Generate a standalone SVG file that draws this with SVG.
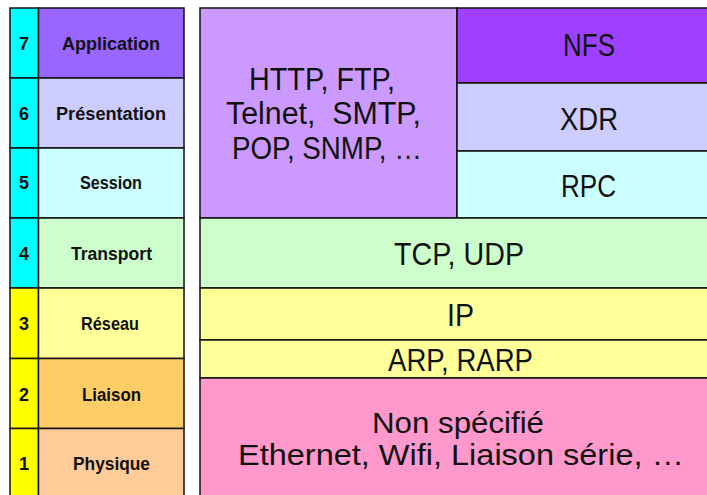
<svg xmlns="http://www.w3.org/2000/svg" width="707" height="495" viewBox="0 0 707 495">
<style>
.c{stroke:#111;stroke-width:1.5}
.n{font-family:"Liberation Sans",Arial,sans-serif;font-weight:bold;font-size:18px;fill:#111}
.b{font-family:"Liberation Sans",Arial,sans-serif;font-size:31px;fill:#111;white-space:pre}
.s{font-size:29.5px}
</style>
<rect width="707" height="495" fill="#fff"/>
<g id="layer7">
<rect class="c" x="10" y="8" width="28.5" height="70" fill="#00FFFF"/>
<rect class="c" x="38.5" y="8" width="145.5" height="70" fill="#9966FF"/>
<text class="n" x="24" y="50" text-anchor="middle">7</text>
<text class="n" x="62" y="50" textLength="98" lengthAdjust="spacingAndGlyphs">Application</text>
</g>
<g id="layer6">
<rect class="c" x="10" y="78" width="28.5" height="70" fill="#00FFFF"/>
<rect class="c" x="38.5" y="78" width="145.5" height="70" fill="#CCCCFF"/>
<text class="n" x="24" y="120" text-anchor="middle">6</text>
<text class="n" x="56" y="120" textLength="110" lengthAdjust="spacingAndGlyphs">Présentation</text>
</g>
<g id="layer5">
<rect class="c" x="10" y="148" width="28.5" height="70" fill="#00FFFF"/>
<rect class="c" x="38.5" y="148" width="145.5" height="70" fill="#CCFFFF"/>
<text class="n" x="24" y="189" text-anchor="middle">5</text>
<text class="n" x="80" y="189" textLength="62" lengthAdjust="spacingAndGlyphs">Session</text>
</g>
<g id="layer4">
<rect class="c" x="10" y="218" width="28.5" height="70" fill="#00FFFF"/>
<rect class="c" x="38.5" y="218" width="145.5" height="70" fill="#CCFFCC"/>
<text class="n" x="24" y="260" text-anchor="middle">4</text>
<text class="n" x="71" y="260" textLength="81" lengthAdjust="spacingAndGlyphs">Transport</text>
</g>
<g id="layer3">
<rect class="c" x="10" y="288" width="28.5" height="70.5" fill="#FFFF00"/>
<rect class="c" x="38.5" y="288" width="145.5" height="70.5" fill="#FFFF99"/>
<text class="n" x="24" y="330" text-anchor="middle">3</text>
<text class="n" x="81" y="330" textLength="58" lengthAdjust="spacingAndGlyphs">Réseau</text>
</g>
<g id="layer2">
<rect class="c" x="10" y="358.5" width="28.5" height="70" fill="#FFFF00"/>
<rect class="c" x="38.5" y="358.5" width="145.5" height="70" fill="#FFCC66"/>
<text class="n" x="24" y="401" text-anchor="middle">2</text>
<text class="n" x="82" y="401" textLength="59" lengthAdjust="spacingAndGlyphs">Liaison</text>
</g>
<g id="layer1">
<rect class="c" x="10" y="428.5" width="28.5" height="75" fill="#FFFF00"/>
<rect class="c" x="38.5" y="428.5" width="145.5" height="75" fill="#FFCC99"/>
<text class="n" x="24" y="470" text-anchor="middle">1</text>
<text class="n" x="73" y="470" textLength="77" lengthAdjust="spacingAndGlyphs">Physique</text>
</g>
<g id="apps">
<rect class="c" x="200" y="8" width="257" height="210" fill="#CC99FF"/>
<text class="b" x="249" y="90" textLength="146" lengthAdjust="spacingAndGlyphs">HTTP, FTP,</text>
<text class="b" x="226" y="124" textLength="195" lengthAdjust="spacingAndGlyphs">Telnet,  SMTP,</text>
<text class="b" x="232" y="159" textLength="190" lengthAdjust="spacingAndGlyphs">POP, SNMP, …</text>
</g>
<g id="nfs">
<rect class="c" x="457" y="8" width="263" height="75" fill="#A040FF"/>
<text class="b" x="563" y="56" textLength="52" lengthAdjust="spacingAndGlyphs">NFS</text>
</g>
<g id="xdr">
<rect class="c" x="457" y="83" width="263" height="68" fill="#CCCCFF"/>
<text class="b" x="560" y="130" textLength="58" lengthAdjust="spacingAndGlyphs">XDR</text>
</g>
<g id="rpc">
<rect class="c" x="457" y="151" width="263" height="67" fill="#CCFFFF"/>
<text class="b" x="561" y="197" textLength="55" lengthAdjust="spacingAndGlyphs">RPC</text>
</g>
<g id="tcp">
<rect class="c" x="200" y="218" width="520" height="70" fill="#CCFFCC"/>
<text class="b" x="394" y="265" textLength="130" lengthAdjust="spacingAndGlyphs">TCP, UDP</text>
</g>
<g id="ip">
<rect class="c" x="200" y="288" width="520" height="52" fill="#FFFF99"/>
<text class="b" x="447" y="326" textLength="27" lengthAdjust="spacingAndGlyphs">IP</text>
</g>
<g id="arp">
<rect class="c" x="200" y="340" width="520" height="38" fill="#FFFF99"/>
<text class="b" x="388" y="371" textLength="145" lengthAdjust="spacingAndGlyphs">ARP, RARP</text>
</g>
<g id="phys">
<rect class="c" x="200" y="378" width="520" height="125" fill="#FF99CC"/>
<text class="b s" x="372" y="433" textLength="172" lengthAdjust="spacingAndGlyphs">Non spécifié</text>
<text class="b s" x="238" y="465" textLength="446" lengthAdjust="spacingAndGlyphs">Ethernet, Wifi, Liaison série, …</text>
</g>
<g id="connectors"/>
</svg>
